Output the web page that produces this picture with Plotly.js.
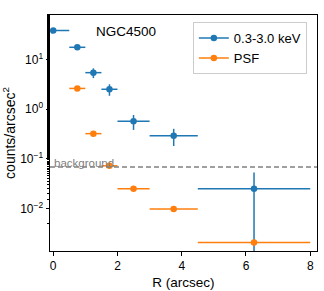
<!DOCTYPE html>
<html>
<head>
<meta charset="utf-8">
<script src="https://cdn.plot.ly/plotly-3.0.1.min.js"></script>
<style>html,body{margin:0;padding:0;background:#fff;}#chart{width:324px;height:291px;}</style>
</head>
<body>
<div id="chart"></div>
<script>
// Data
var softX = [0, 0.75, 1.25, 1.75, 2.5, 3.75, 6.25];
var softXErr = [0.5, 0.25, 0.25, 0.25, 0.5, 0.75, 1.75];
var softY = [38, 17.5, 5.4, 2.5, 0.57, 0.29, 0.025];
var softYErr = [2.5, 1.5, 1.2, 0.65, 0.19, 0.11, 0.028];

var psfX = [0.75, 1.25, 1.75, 2.5, 3.75, 6.25];
var psfXErr = [0.25, 0.25, 0.25, 0.5, 0.75, 1.75];
var psfY = [2.6, 0.32, 0.072, 0.025, 0.0097, 0.00205];

var backgroundLevel = 0.068;
var yTickVals = [0.01, 0.1, 1, 10];
var yTickText = ['10<sup>−2</sup>', '10<sup>−1</sup>', '10<sup>0</sup>', '10<sup>1</sup>'];
var xTickVals = [0, 2, 4, 6, 8];

var BLUE = '#1f77b4', ORANGE = '#ff7f0e';
var FONT = 'Liberation Sans, Arial, sans-serif';

var traces = [
  {
    x: softX, y: softY, type: 'scatter', mode: 'markers', showlegend: false,
    marker: {color: BLUE, size: 6.5},
    error_x: {type: 'data', array: softXErr, color: BLUE, thickness: 1.5, width: 0},
    error_y: {type: 'data', array: softYErr, color: BLUE, thickness: 1.5, width: 0}
  },
  {
    x: psfX, y: psfY, type: 'scatter', mode: 'markers', showlegend: false,
    marker: {color: ORANGE, size: 6.5},
    error_x: {type: 'data', array: psfXErr, color: ORANGE, thickness: 1.5, width: 0}
  },
  {x: [null], y: [null], type: 'scatter', mode: 'lines+markers', name: '0.3-3.0 keV',
   line: {color: BLUE, width: 1.5}, marker: {color: BLUE, size: 6.5}},
  {x: [null], y: [null], type: 'scatter', mode: 'lines+markers', name: 'PSF',
   line: {color: ORANGE, width: 1.5}, marker: {color: ORANGE, size: 6.5}}
];

var layout = {
  width: 324, height: 291,
  margin: {l: 50, r: 7, t: 15, b: 40},
  paper_bgcolor: '#fff', plot_bgcolor: '#fff',
  font: {family: FONT, size: 12, color: '#000'},
  showlegend: true,
  legend: {
    x: 0.535, y: 0.97, xanchor: 'left', yanchor: 'top',
    bordercolor: '#cccccc', borderwidth: 1, bgcolor: 'rgba(255,255,255,0.8)',
    font: {family: FONT, size: 13, color: '#000'}, tracegroupgap: 0
  },
  xaxis: {
    range: [-0.1, 8.21], tickvals: xTickVals, ticks: 'outside', ticklen: 3.5,
    tickcolor: '#000', showline: true, linecolor: '#000', linewidth: 1, mirror: true,
    showgrid: false, zeroline: false, tickfont: {size: 12},
    title: {text: 'R (arcsec)', font: {family: FONT, size: 13.5}, standoff: 5}
  },
  yaxis: {
    type: 'log', range: [-2.857, 1.893], tickvals: yTickVals, ticktext: yTickText,
    ticks: 'outside', ticklen: 3.5, tickcolor: '#000', tickfont: {size: 12},
    minor: {ticks: 'outside', ticklen: 2, tickcolor: '#000', showgrid: false},
    showline: true, linecolor: '#000', linewidth: 1, mirror: true,
    showgrid: false, zeroline: false,
    title: {text: 'counts/arcsec<sup>2</sup>', font: {family: FONT, size: 14}, standoff: 4}
  },
  shapes: [{
    type: 'line', xref: 'paper', x0: 0, x1: 1, yref: 'y', y0: backgroundLevel, y1: backgroundLevel,
    line: {color: 'gray', width: 1.5, dash: '5px,3px'}
  }],
  annotations: [
    {text: 'NGC4500', xref: 'x', x: 2.26, yref: 'paper', y: 0.932, showarrow: false,
     xanchor: 'center', yanchor: 'middle', font: {family: FONT, size: 13.5, color: '#000'}},
    {text: 'background', xref: 'paper', x: 0.008, yref: 'y', y: Math.log10(backgroundLevel),
     showarrow: false, xanchor: 'left', yanchor: 'bottom', yshift: -4,
     font: {family: FONT, size: 11.5, color: 'gray'}}
  ]
};

Plotly.newPlot('chart', traces, layout, {displayModeBar: false, staticPlot: true});
</script>
</body>
</html>
